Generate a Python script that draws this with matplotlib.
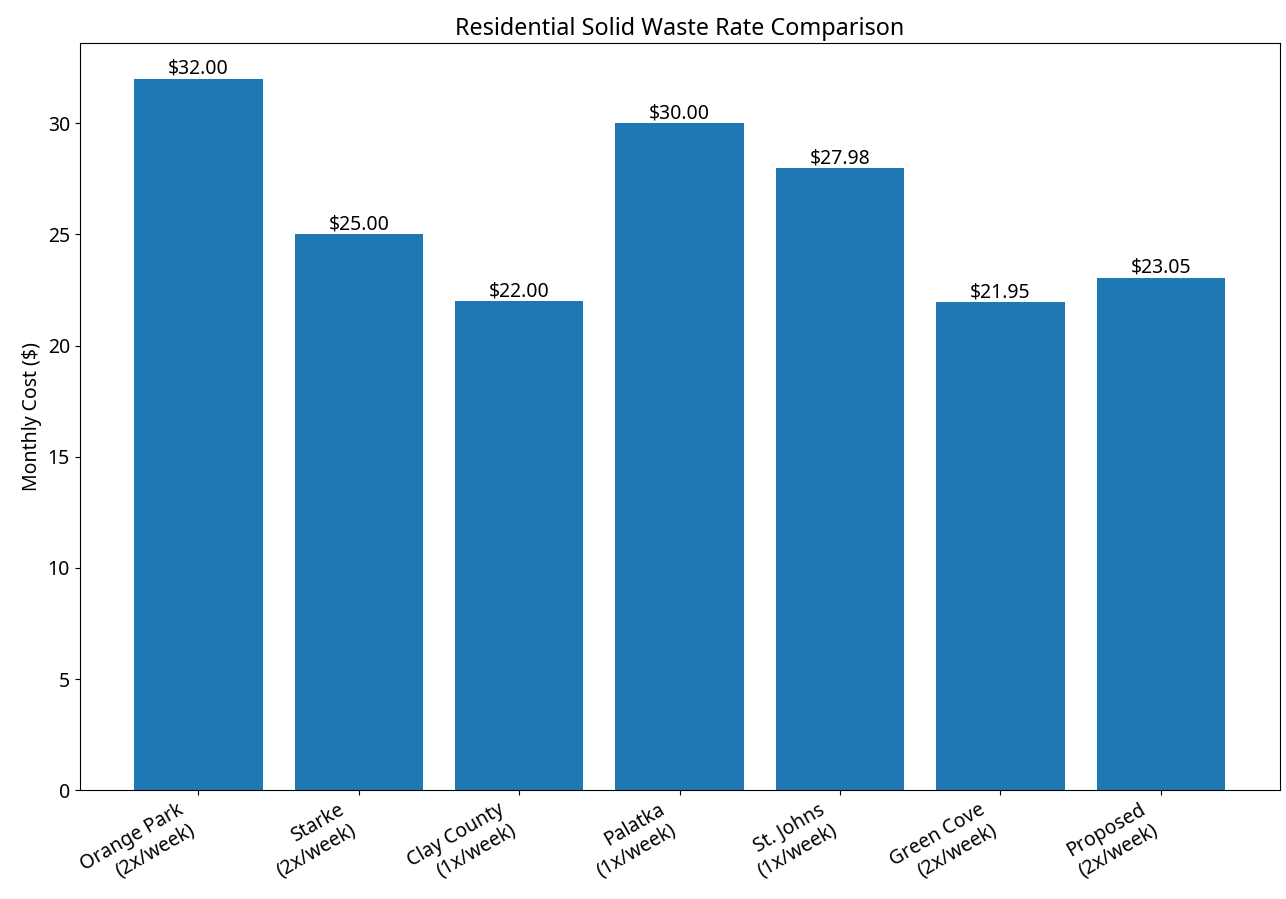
import matplotlib

matplotlib.use("Agg")
import matplotlib.pyplot as plt

# rate data
providers = [
    "Orange Park\n(2x/week)",
    "Starke\n(2x/week)",
    "Clay County\n(1x/week)",
    "Palatka\n(1x/week)",
    "St. Johns\n(1x/week)",
    "Green Cove\n(2x/week)",
    "Proposed\n(2x/week)",
]
monthly_cost = [32.00, 25.00, 22.00, 30.00, 27.98, 21.95, 23.05]

plt.rcParams["font.family"] = ["Noto Sans", "DejaVu Sans"]
plt.rcParams["font.size"] = 14

fig, ax = plt.subplots(figsize=(12.86, 8.99), dpi=100)

bars = ax.bar(providers, monthly_cost, color="#1f77b4")

for bar, value in zip(bars, monthly_cost):
    ax.text(
        bar.get_x() + bar.get_width() / 2,
        bar.get_height(),
        f"${value:.2f}",
        ha="center",
        va="bottom",
    )

ax.set_ylabel("Monthly Cost ($)")
ax.set_title("Residential Solid Waste Rate Comparison")
plt.setp(ax.get_xticklabels(), rotation=30, ha="right")

fig.subplots_adjust(left=0.062, right=0.995, top=0.952, bottom=0.121)
plt.savefig("out.png", dpi=100)
plt.close()
